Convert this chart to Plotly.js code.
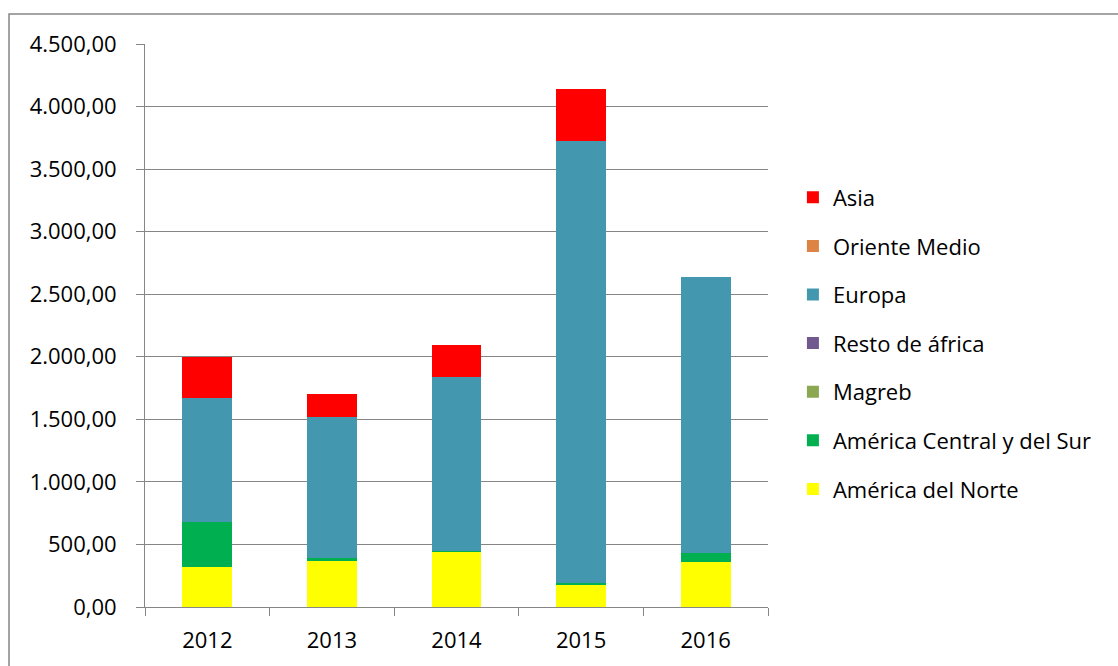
<!DOCTYPE html>
<html>
<head>
<meta charset="utf-8">
<script src="https://cdn.plot.ly/plotly-3.0.1.min.js"></script>
<style>
  html, body { margin: 0; padding: 0; background: #fff; }
  #chart { width: 1118px; height: 666px; }
</style>
</head>
<body>
<div id="chart"></div>
<script>
const years = ['2012', '2013', '2014', '2015', '2016'];

const americaNorte   = [320, 365, 440, 179, 360];
const americaCentral = [360, 30, 4, 15, 72];
const magreb         = [0, 0, 0, 0, 0];
const restoAfrica    = [0, 0, 0, 0, 0];
const europa         = [992, 1125, 1392, 3528, 2203];
const orienteMedio   = [0, 0, 0, 0, 0];
const asia           = [328, 184, 262, 416, 0];

const seriesNames  = ['América del Norte', 'América Central y del Sur', 'Magreb', 'Resto de áfrica', 'Europa', 'Oriente Medio', 'Asia'];
const seriesValues = [americaNorte, americaCentral, magreb, restoAfrica, europa, orienteMedio, asia];
const seriesColors = ['#FFFF00', '#00B050', '#8BA752', '#71588F', '#4398B0', '#DD8444', '#FF0000'];

const FONT = 'Open Sans, Noto Sans, sans-serif';
const FS = 22;

const traces = seriesNames.map((name, i) => ({
  type: 'bar',
  name: name,
  x: years,
  y: seriesValues[i],
  legendgroup: 'g' + i,
  legendrank: seriesNames.length - i,
  marker: { color: seriesColors[i], line: { width: 0 } },
  hoverinfo: 'x+y+name'
}));

const layout = {
  width: 1118,
  height: 666,
  margin: { l: 145, r: 350, t: 44, b: 59 },
  paper_bgcolor: '#ffffff',
  plot_bgcolor: '#ffffff',
  barmode: 'stack',
  bargap: 0.6,
  separators: ',.',
  font: { family: FONT, size: FS, color: '#000000' },
  xaxis: {
    type: 'category',
    showgrid: false,
    showline: true,
    linecolor: '#868686',
    linewidth: 1,
    ticks: 'outside',
    tickson: 'boundaries',
    ticklen: 8,
    tickcolor: '#868686',
    ticklabelstandoff: 14,
    tickfont: { family: FONT, size: FS, color: '#000' },
    zeroline: false
  },
  yaxis: {
    range: [0, 4500],
    dtick: 500,
    tick0: 0,
    tickformat: ',.2f',
    showgrid: true,
    gridcolor: '#868686',
    gridwidth: 1,
    showline: true,
    linecolor: '#868686',
    linewidth: 1,
    ticks: 'outside',
    ticklen: 8,
    tickcolor: '#868686',
    ticklabelstandoff: 15,
    tickfont: { family: FONT, size: FS, color: '#000' },
    zeroline: false
  },
  legend: {
    x: 1.04,
    xanchor: 'left',
    y: 0.468,
    yanchor: 'middle',
    traceorder: 'grouped',
    tracegroupgap: 17,
    font: { family: FONT, size: FS, color: '#000' },
    bgcolor: 'rgba(0,0,0,0)',
    borderwidth: 0
  },
  showlegend: true,
  shapes: [
    {
      type: 'path',
      xref: 'paper', yref: 'paper',
      path: 'M 1.8 1.0533 L -0.2183 1.0533 L -0.2183 -0.2',
      line: { color: '#868686', width: 1.5 }
    }
  ]
};

Plotly.newPlot('chart', traces, layout, { displayModeBar: false, staticPlot: true });
</script>
</body>
</html>
